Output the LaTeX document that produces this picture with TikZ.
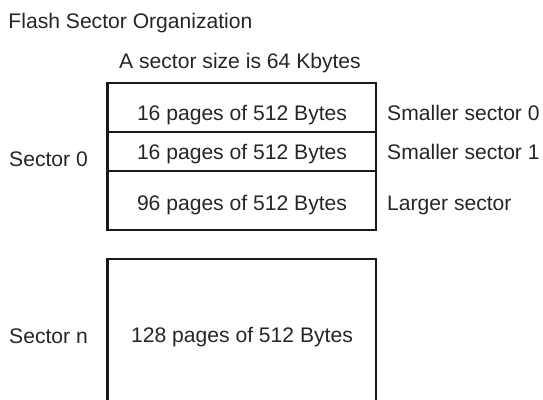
\documentclass[tikz,border=0pt]{standalone}
\usepackage{fontspec}
\setmainfont{Liberation Sans}
\tikzset{
  frameline/.style={line width=2.3pt, draw=black!90},
  sectortext/.style={inner sep=0pt, font=\fontsize{21.1}{25}\selectfont, text=black!85},
}
\begin{document}
\begin{tikzpicture}[x=1pt,y=-1pt]
            \useasboundingbox (0,0) rectangle (543,399);

            \node[sectortext, anchor=base west] (title) at (8.3,28.3) {Flash Sector Organization};
            \node[sectortext, anchor=base] (size) at (240,68.3) {A sector size is 64 Kbytes};

            \draw[frameline] (107.5,83) rectangle (376,230);
            \draw[frameline] (107.5,132) -- (376,132);
            \draw[frameline] (107.5,171) -- (376,171);
            \draw[frameline] (107.5,405) -- (107.5,259) -- (376,259) -- (376,405);

            \node[sectortext, anchor=base] (pages0) at (242,120.7) {16 pages of 512 Bytes};
            \node[sectortext, anchor=base] (pages1) at (242,159) {16 pages of 512 Bytes};
            \node[sectortext, anchor=base] (pages2) at (242,210.7) {96 pages of 512 Bytes};
            \node[sectortext, anchor=base] (pagesn) at (242,342) {128 pages of 512 Bytes};

            \node[sectortext, anchor=base west] (small0) at (387,120.7) {Smaller sector 0};
            \node[sectortext, anchor=base west] (small1) at (387,159) {Smaller sector 1};
            \node[sectortext, anchor=base west] (large) at (387,210.7) {Larger sector};

            \node[sectortext, anchor=base west] (sector0) at (9,166) {Sector 0};
            \node[sectortext, anchor=base west] (sectorn) at (9,343) {Sector n};
        \end{tikzpicture}
\end{document}
